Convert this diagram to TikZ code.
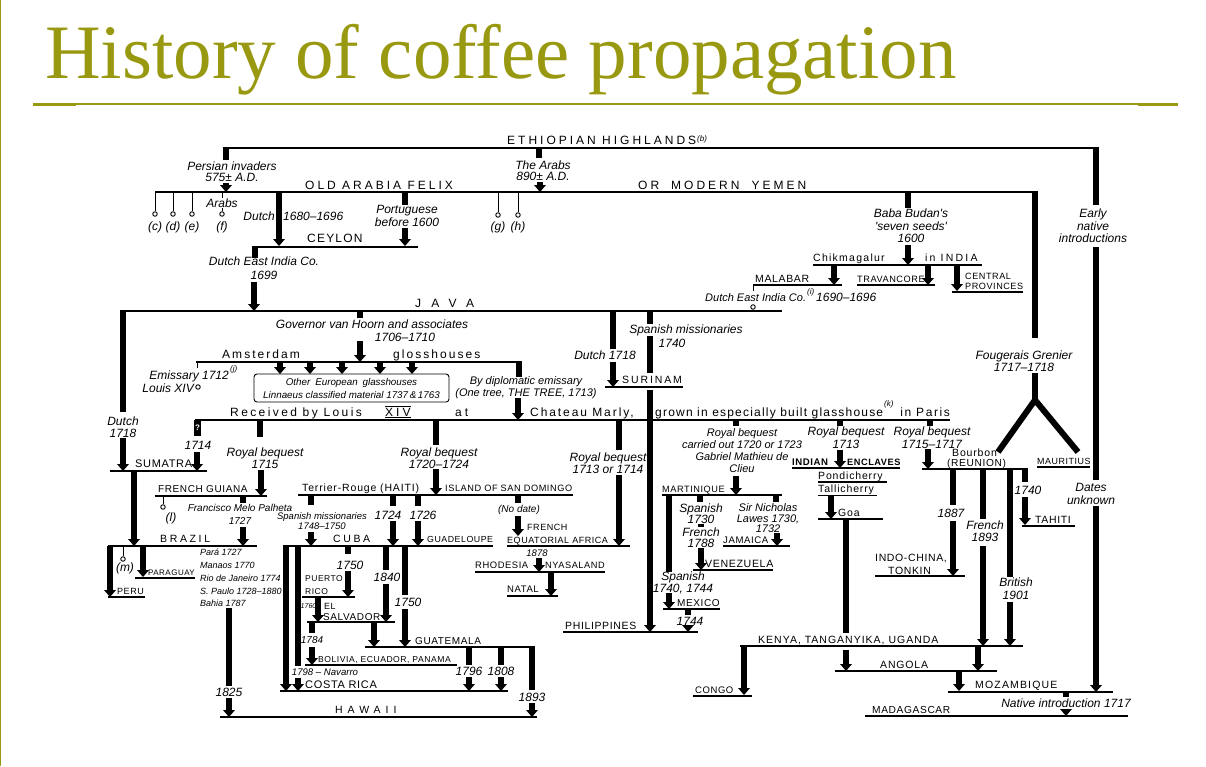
\documentclass[tikz,border=0pt]{standalone}
\usepackage{fontspec}
\setmainfont{Liberation Serif}
\newfontfamily\handfont{Liberation Sans}
\usepackage{tikz}
\usetikzlibrary{arrows.meta}
\definecolor{slideolive}{RGB}{153,153,17}
\tikzset{
place/.style={line width=1.6pt},
bar/.style={line width=6pt},
arr/.style={line width=6pt,-{Triangle[width=12pt,length=7pt,line width=0pt]}},
stem/.style={line width=1pt},
knob/.style={circle,draw,line width=0.9pt,inner sep=0pt,minimum size=4.5pt,fill=white},
lab/.style={font=\handfont\itshape\fontsize{12}{12.5}\selectfont,inner sep=0pt,align=center},
minor/.style={font={\handfont\itshape\fontsize{#1}{12}\selectfont},inner sep=0pt,align=center},
note/.style={font=\handfont\itshape\fontsize{8}{8}\selectfont,inner sep=0pt,anchor=base west},
land/.style={font={\handfont\fontsize{#1}{#1}\selectfont\addfontfeature{LetterSpace=6}},inner sep=0pt,anchor=base west},
land/.default=10,
town/.style={font={\handfont\fontsize{10.5}{11}\selectfont\addfontfeature{LetterSpace=#1}},inner sep=0pt,anchor=base west},
wide/.style={font={\handfont\fontsize{12}{13}\selectfont\addfontfeature{LetterSpace=#1}},inner sep=0pt,anchor=base west},
wide/.default=25,
euro/.style={draw,rounded corners=3pt,line width=0.9pt,minimum width=195pt,minimum height=28pt,inner sep=1pt,align=center,font=\handfont\itshape\fontsize{9.8}{13}\selectfont},
title/.style={font=\fontsize{77}{80}\selectfont,text=slideolive,inner sep=0pt,anchor=base west}
}
\begin{document}
\begin{tikzpicture}[x=1pt,y=-1pt]
\fill[white] (0,0) rectangle (1206,766);
\useasboundingbox (0,0) rectangle (1206,766);
\draw[slideolive,line width=1.2pt] (0.6,0) -- (0.6,766);
\node[title] (head) at (45,78) {History of coffee propagation};
\draw[slideolive,line width=1.5pt] (33,104) -- (1178,104);
\draw[slideolive,line width=3pt] (33,104) -- (76,104);
\draw[slideolive,line width=3pt] (1138,104) -- (1178,104);

\draw[place] (223,148) -- (1099,148);
\node[wide] (ethiopia) at (507,144) {ETHIOPIAN HIGHLANDS};
\node[note] (fnb) at (697,141) {(b)};
\draw[bar] (225.5,147.2) -- (225.5,160);
\node[lab] (persian) at (232,172) {Persian invaders\\[-1.5pt]575± A.D.};
\draw[arr] (226,183) -- (226,192);
\draw[bar] (539,147.2) -- (539,158);
\node[lab] (arabs) at (543,171) {The Arabs\\[-1.5pt]890± A.D.};
\draw[arr] (540,182) -- (540,192);
\draw[place] (155,192) -- (1038,192);
\node[wide] (felix) at (305,189) {OLD ARABIA FELIX};
\node[wide] (yemen) at (638,189) {OR\quad MODERN\quad YEMEN};
\node[knob] (knobc) at (155,214) {};
\node[knob] (knobd) at (173,214) {};
\node[knob] (knobe) at (192,214) {};
\node[knob] (knobf) at (222,214) {};
\node[knob] (knobg) at (498,215) {};
\node[knob] (knobh) at (518,215) {};
\draw[stem] (155,192) -- (knobc);
\draw[stem] (173,192) -- (knobd);
\draw[stem] (192,192) -- (knobe);
\draw[stem] (222,192) -- (knobf);
\draw[stem] (498,192) -- (knobg);
\draw[stem] (518,192) -- (knobh);
\node[lab,fill=white,inner sep=0.5pt] (arabsf) at (222,203) {Arabs};
\node[lab] (fnc) at (155,227) {(c)};
\node[lab] (fnd) at (173,227) {(d)};
\node[lab] (fne) at (192,227) {(e)};
\node[lab] (fnf) at (222,227) {(f)};
\node[lab] (fng) at (498,227) {(g)};
\node[lab] (fnh) at (518,227) {(h)};
\draw[arr] (279,192) -- (279,246);
\node[lab,anchor=east] (dutchc) at (275,216) {Dutch};
\node[lab,anchor=west] (dutchcy) at (283,216) {1680–1696};
\draw[bar] (405,192) -- (405,205);
\node[lab] (portug) at (407,216) {Portuguese\\before 1600};
\draw[arr] (405,228) -- (405,246);
\draw[place] (252,247) -- (418,247);
\node[wide=10] (ceylon) at (307,242) {CEYLON};
\draw[bar] (255,247) -- (255,258);
\node[lab] (deic) at (264,268) {Dutch East India Co.\\[1pt]1699};
\draw[arr] (254,282) -- (254,311);
\draw[place] (119.5,311) -- (782,311);
\node[wide=85] (java) at (415,307) {JAVA};

\draw[bar] (122.5,310.2) -- (122.5,412);
\node[lab] (dutchsu) at (123,427) {Dutch\\1718};
\draw[arr] (123,438) -- (123,471);
\draw[place] (110,471) -- (207,471);
\node[land=11] (sumatra) at (135,467) {SUMATRA};
\draw[arr] (134,471) -- (134,546);

\draw[bar] (360,311) -- (360,318);
\node[lab] (hoorn) at (372,324) {Governor van Hoorn and associates};
\node[lab] (hoornyr) at (405,337) {1706–1710};
\draw[arr] (360,341) -- (360,362);
\draw[place] (196,362) -- (521.5,362);
\node[wide=17] (amst) at (222,358) {Amsterdam};
\node[wide=17] (gloss) at (393,358) {glosshouses};
\draw[stem] (197,362) -- (197,368);
\node[lab,anchor=base east] (emiss) at (229,379) {Emissary 1712};
\node[note] (fnj) at (230,371) {(j)};
\node[lab,anchor=base east] (louis) at (194,392) {Louis XIV};
\node[knob] (knobl) at (198,387) {};
\node[euro] (euro) at (351.5,388) {Other\enspace European\enspace glasshouses\\Linnaeus classified material 1737\,\&\,1763};
\draw[arr] (280,362) -- (280,374);
\draw[arr] (310,362) -- (310,374);
\draw[arr] (342,362) -- (342,374);
\draw[arr] (380,362) -- (380,374);
\draw[arr] (412,362) -- (412,374);
\draw[bar] (518.5,361.2) -- (518.5,377);
\node[minor=11] (diplo) at (526,387.5) {By diplomatic emissary\\(One tree, THE TREE, 1713)};
\draw[arr] (518,398) -- (518,420);

\draw[bar] (613,311) -- (613,349);
\node[lab] (dutchsr) at (605,355) {Dutch 1718};
\draw[arr] (613,362) -- (613,387);
\draw[place] (605,387) -- (683,387);
\node[town=18] (surinam) at (622,383) {SURINAM};
\draw[bar] (650,311) -- (650,324);
\node[lab] (spmiss) at (686,330) {Spanish missionaries};
\node[lab] (spmissyr) at (672,343) {1740};
\draw[bar] (650,336) -- (650,373);
\draw[arr] (650,390) -- (650,632);

\draw[place] (195,420) -- (950,420);
\node[wide=20] (recv) at (230,416) {Received by Louis};
\node[wide=25] (xiv) at (385,416) {XIV};
\draw[line width=0.8pt] ([yshift=1.5pt]xiv.north west) -- ([yshift=1.5pt]xiv.north east);
\draw[line width=0.8pt] ([yshift=-1.5pt]xiv.south west) -- ([yshift=-1.5pt]xiv.south east);
\node[wide=25] (recvat) at (455,416) {at};
\node[wide=16] (marly) at (530,416) {Chateau Marly,};
\node[wide=10] (grown) at (655,416) {grown in especially built glasshouse};
\node[note] (fnk) at (884,406) {(k)};
\node[wide=13,anchor=base east] (paris) at (950,416) {in Paris};
\node[fill=black,text=white,font=\handfont\bfseries\fontsize{8}{8}\selectfont,inner sep=0pt,minimum width=7pt,minimum height=16pt] (query) at (197.5,428) {?};
\node[lab] (y1714) at (198,445) {1714};
\draw[arr] (197,452) -- (197,471);

\draw[bar] (619,420) -- (619,450);
\node[lab] (rb1713a) at (608,463) {Royal bequest\\1713 or 1714};
\draw[arr] (619,475) -- (619,546);
\draw[place] (563,632) -- (698,632);
\node[land=10.5] (philip) at (565,629) {PHILIPPINES};

\draw[bar] (260,420) -- (260,437);
\node[lab] (rb1715) at (265,458) {Royal bequest\\1715};
\draw[arr] (261,470) -- (261,496);
\draw[place] (155,496) -- (267,496);
\node[land] (guiana) at (158,492) {FRENCH GUIANA};
\node[knob] (knobl2) at (163,507) {};
\draw[stem] (163,496) -- (knobl2);
\node[lab] (fnl) at (171,518) {(l)};
\draw[bar] (243,496) -- (243,503);
\node[minor=10] (palheta) at (240,514.5) {Francisco Melo Palheta\\[1pt]1727};
\draw[arr] (243,527) -- (243,546);
\draw[place] (108,546) -- (257,546);
\node[town=25] (brazil) at (160,542) {BRAZIL};
\draw[arr] (110,546) -- (110,597);
\draw[place] (108,597) -- (145,597);
\node[land=9] (peru) at (117,594) {PERU};
\node[knob] (knobm) at (123,559) {};
\draw[stem] (123,546) -- (knobm);
\node[lab] (fnm) at (125,568) {(m)};
\draw[arr] (143,546) -- (143,577);
\draw[place] (135,578) -- (195,578);
\node[land=8] (paraguay) at (148,575) {PARAGUAY};
\node[minor=9,align=left,anchor=west,font={\handfont\itshape\fontsize{9}{12.75}\selectfont}] (cities) at (200,578) {Pará 1727\\Manaos 1770\\Rio de Janeiro 1774\\S. Paulo 1728–1880\\Bahia 1787};
\draw[bar] (229,608) -- (229,686);
\node[lab] (y1825) at (229,692) {1825};
\draw[arr] (229,698) -- (229,717);
\draw[place] (220,717) -- (537,717);
\node[town=47] (hawaii) at (335,713) {HAWAII};

\draw[bar] (436,420) -- (436,445);
\node[lab] (rb1720) at (439,458) {Royal bequest\\1720–1724};
\draw[arr] (436,469) -- (436,495);
\draw[place] (298,495) -- (573,495);
\node[town=8] (haiti) at (302,491) {Terrier-Rouge (HAITI)};
\node[land=9.2] (domingo) at (445,491) {ISLAND OF SAN DOMINGO};
\draw[bar] (311,495) -- (311,505);
\node[minor=9.5] (spmiss2) at (322,521) {Spanish missionaries\\[-1.5pt]1748–1750};
\draw[arr] (311,532) -- (311,546);
\draw[bar] (393,495) -- (393,506);
\node[lab] (y1724) at (388,515) {1724};
\draw[arr] (393,521) -- (393,546);
\draw[bar] (418,495) -- (418,506);
\node[lab] (y1726) at (423,515) {1726};
\draw[arr] (418,521) -- (418,546);
\draw[bar] (518,495) -- (518,503);
\node[minor=10] (nodate) at (519,510) {(No date)};
\draw[arr] (518,516) -- (518,536);
\node[land=9] (french) at (527,530) {FRENCH};
\node[land=9] (equat) at (507,543) {EQUATORIAL AFRICA};
\draw[place] (507,546) -- (630,546);
\node[minor=9.5] (y1878) at (537,553) {1878};
\draw[arr] (539,558) -- (539,572);
\draw[place] (475,572) -- (605,572);
\node[land=9.4] (rhodesia) at (475,568) {RHODESIA};
\node[land=9.2] (nyasa) at (545,568) {NYASALAND};
\draw[arr] (551,572) -- (551,596);
\draw[place] (507,596) -- (558,596);
\node[land=9.5] (natal) at (507,592) {NATAL};

\draw[place] (283,546) -- (493,546);
\node[town=25] (cuba) at (333,542) {CUBA};
\node[land=8.8] (guadel) at (427,542) {GUADELOUPE};
\draw[arr] (286,546) -- (286,691);
\draw[bar] (298,546) -- (298,666);
\node[minor=9.6] (navarro) at (325,672) {1798 – Navarro};
\draw[arr] (298,678) -- (298,691);
\draw[bar] (348,546) -- (348,554);
\node[lab] (y1750a) at (350,565) {1750};
\draw[arr] (348,571) -- (348,597);
\draw[place] (302,597) -- (355,597);
\node[land=8.5] (puerto) at (305,581) {PUERTO};
\node[land=8.5] (rico) at (305,594) {RICO};
\draw[arr] (318,597) -- (318,622);
\node[minor=7,anchor=east] (y1760) at (316.5,606) {1760};
\node[land=9] (elsal) at (324,609) {EL};
\node[land=10] (salvador) at (323,620) {SALVADOR};
\draw[place] (307,622) -- (395,622);
\draw[bar] (386,546) -- (386,570);
\node[lab] (y1840) at (387,577) {1840};
\draw[arr] (386,584) -- (386,622);
\draw[bar] (405,546) -- (405,595);
\node[lab] (y1750b) at (408,602) {1750};
\draw[arr] (405,609) -- (405,647);
\draw[arr] (374,622) -- (374,647);
\draw[place] (365,647) -- (535,647);
\node[land=10] (guatem) at (415,644) {GUATEMALA};
\draw[bar] (312,622) -- (312,633);
\node[minor=10] (y1784) at (312,640) {1784};
\draw[arr] (312,647) -- (312,665);
\draw[place] (305,665) -- (457,665);
\node[land=8.6] (bolivia) at (318,662) {BOLIVIA, ECUADOR, PANAMA};
\draw[bar] (469,647) -- (469,665);
\node[lab] (y1796) at (469,671) {1796};
\draw[arr] (469,677) -- (469,691);
\draw[bar] (501,647) -- (501,665);
\node[lab] (y1808) at (501,671) {1808};
\draw[arr] (501,677) -- (501,691);
\draw[place] (280,691) -- (508,691);
\node[land=11] (costa) at (305,688) {COSTA RICA};
\draw[bar] (532,647) -- (532,690);
\node[lab] (y1893) at (532,697) {1893};
\draw[arr] (532,703) -- (532,717);

\draw[bar] (908,192) -- (908,208);
\node[lab] (budan) at (911,226) {Baba Budan's\\'seven seeds'\\1600};
\draw[arr] (908,245) -- (908,265);
\draw[place] (813,265) -- (982,265);
\node[town=12] (chik) at (813,261) {Chikmagalur};
\node[town=21] (india) at (925,261) {in INDIA};
\draw[arr] (834,265) -- (834,285);
\draw[place] (753,285) -- (842,285);
\node[land=10.5] (malabar) at (755,282) {MALABAR};
\draw[stem] (753,285) -- (753,291);
\node[minor=11,anchor=base west] (deic2) at (705,301) {Dutch East India Co.};
\node[note] (fni) at (807,294) {(i)};
\node[lab,anchor=base west] (deicyr) at (816,301) {1690–1696};
\node[knob] (knobi) at (753,307) {};
\draw[arr] (928,265) -- (928,285);
\draw[place] (857,285) -- (935,285);
\node[land=9.2] (travan) at (857,282) {TRAVANCORE};
\draw[arr] (957,265) -- (957,291);
\draw[place] (952,292) -- (1023,292);
\node[land=9.1] (central) at (965,279) {CENTRAL};
\node[land=9.1] (provin) at (965,289) {PROVINCES};

\draw[bar] (1035,191.2) -- (1035,338);
\node[lab] (fouger) at (1024,361) {Fougerais Grenier\\1717–1718};
\draw[bar] (1035,373) -- (1035,401);
\draw[bar] (998,452) -- (1035,400) -- (1078,452);
\draw[bar] (1096,147.2) -- (1096,205);
\node[lab] (early) at (1093,226) {Early\\native\\introductions};
\draw[bar] (1096,247) -- (1096,480);
\node[lab] (dates) at (1091,494) {Dates\\unknown};
\draw[arr] (1096,506) -- (1096,692);
\draw[place] (1037,467) -- (1090,467);
\node[land=8.9] (mauri) at (1037,464) {MAURITIUS};
\node[town=8] (bourbon) at (952,456) {Bourbon};
\node[land=10.2] (reunion) at (947,466) {(REUNION)};
\draw[place] (922,469) -- (1028,469);

\draw[bar] (930,420) -- (930,426);
\node[lab] (rb1715b) at (932,437.5) {Royal bequest\\1715–1717};
\draw[arr] (928,449) -- (928,469);
\draw[bar] (840,420) -- (840,426);
\node[lab] (rb1713) at (846,437.5) {Royal bequest\\1713};
\draw[arr] (840,450) -- (840,468);
\draw[bar] (736,420) -- (736,426);
\node[minor=11] (clieu) at (742,450.5) {Royal bequest\\carried out 1720 or 1723\\Gabriel Mathieu de\\Clieu};
\draw[arr] (736,476) -- (736,495);

\draw[place] (792,468) -- (900,468);
\node[land=9.6] (indian) at (792,465) {\bfseries INDIAN};
\node[land=9.2] (enclav) at (847,465) {\bfseries ENCLAVES};
\node[town=8] (pondi) at (818,479) {Pondicherry};
\draw[place] (818,482) -- (887,482);
\node[town=8] (talli) at (818,492) {Tallicherry};
\draw[place] (818,495.5) -- (877,495.5);
\draw[arr] (831,495.5) -- (831,519);
\draw[place] (818,519) -- (883,519);
\node[town=8] (goa) at (838,516) {Goa};
\draw[bar] (846,519) -- (846,633);
\draw[arr] (846,650) -- (846,671);

\draw[place] (740,646) -- (1023,646);
\node[town=9.5] (kenya) at (758,643) {KENYA, TANGANYIKA, UGANDA};
\draw[arr] (744,646) -- (744,695);
\draw[place] (693,696) -- (752,696);
\node[land=9.5] (congo) at (695,693) {CONGO};
\draw[place] (835,671) -- (997,671);
\node[town=8] (angola) at (880,668) {ANGOLA};
\draw[bar] (983,469) -- (983,519);
\node[lab] (french93) at (985,531) {French\\1893};
\draw[arr] (983,546) -- (983,646);
\draw[arr] (978,646) -- (978,671);
\draw[bar] (1010,469) -- (1010,577);
\node[lab] (brit) at (1016,588.5) {British\\1901};
\draw[arr] (1010,602) -- (1010,646);
\draw[bar] (953,469) -- (953,505);
\node[lab] (y1887) at (951,513) {1887};
\draw[arr] (953,521) -- (953,576);
\draw[place] (875,576) -- (965,576);
\node[land=10.5] (indo) at (875,561) {INDO-CHINA,};
\node[land=10.5] (tonkin) at (888,574) {TONKIN};
\draw[bar] (1025,469) -- (1025,482);
\node[lab] (y1740) at (1028,490) {1740};
\draw[arr] (1025,497) -- (1025,525);
\draw[place] (1022,526) -- (1075,526);
\node[land=10.5] (tahiti) at (1035,523) {TAHITI};
\draw[arr] (959,671) -- (959,691);
\draw[place] (948,692) -- (1113,692);
\node[town=11] (mozam) at (975,688) {MOZAMBIQUE};
\draw[bar] (1066,692) -- (1066,697);
\node[lab] (native) at (1066,703) {Native introduction 1717};
\draw[arr] (1066,709) -- (1066,716);
\draw[place] (865,716) -- (1128,716);
\node[land=10.2] (madag) at (872,713) {MADAGASCAR};

\draw[place] (662,495) -- (782,495);
\node[land=9.2] (martin) at (662,492) {MARTINIQUE};
\draw[bar] (669,495) -- (669,572);
\node[lab] (span40) at (683,583) {Spanish\\1740, 1744};
\draw[arr] (669,593) -- (669,609);
\draw[place] (663,609) -- (720,609);
\node[land=10] (mexico) at (677,606) {MEXICO};
\draw[bar] (688,609) -- (688,615);
\node[lab] (y1744) at (690,621) {1744};
\draw[arr] (688,625) -- (688,632);
\draw[bar] (700,495) -- (700,502);
\node[lab] (span30) at (701,513.5) {Spanish\\[-1.5pt]1730};
\draw[bar] (701,523.5) -- (701,527);
\node[lab] (fr88) at (701,537.5) {French\\[-1.5pt]1788};
\draw[arr] (701,548) -- (701,570);
\draw[place] (693,570) -- (773,570);
\node[land=10.6] (venez) at (705,567) {VENEZUELA};
\draw[bar] (776,495) -- (776,502);
\node[minor=11,font={\handfont\itshape\fontsize{11}{10.5}\selectfont}] (lawes) at (768,518.5) {Sir Nicholas\\Lawes 1730,\\1732};
\draw[arr] (777,533) -- (777,546);
\draw[place] (723,546) -- (790,546);
\node[land=9.6] (jamaica) at (723,543) {JAMAICA};
\end{tikzpicture}
\end{document}
